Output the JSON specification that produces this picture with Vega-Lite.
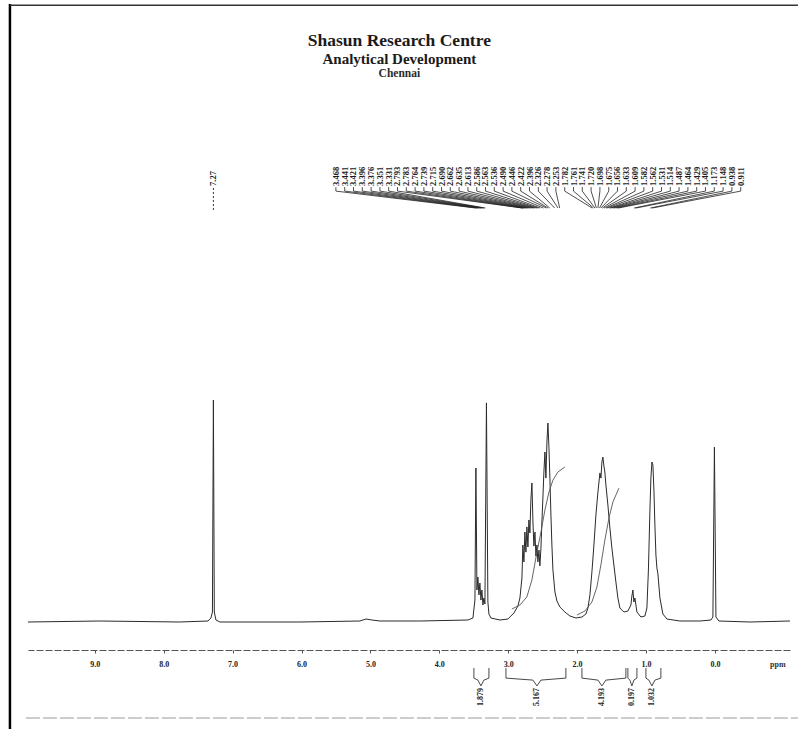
{
  "$schema": "https://vega.github.io/schema/vega-lite/v6.json",
  "width": 762,
  "height": 650,
  "autosize": {"type": "none"},
  "padding": {"left": 28, "top": 0, "right": 8, "bottom": 79},
  "background": "white",
  "config": {
    "view": {"stroke": null},
    "font": "Liberation Serif",
    "axisY": {"disable": true},
    "axisX": {
      "grid": false,
      "domainDash": [7, 2],
      "domainColor": "#555555",
      "domainWidth": 1,
      "tickColor": "#555555",
      "tickSize": 3,
      "labelFont": "Liberation Serif",
      "labelFontWeight": "bold",
      "labelFontSize": 8,
      "labelColor": "#222222",
      "labelPadding": 7
    }
  },
  "datasets": {
    "spec": [
      {"ppm":9.971,"I":-0.45},{"ppm":8.926,"I":0},{"ppm":7.765,"I":-0.45},{"ppm":7.358,"I":0},{"ppm":7.315,"I":1.35},{"ppm":7.293,"I":4.04},{"ppm":7.279,"I":99.1},{"ppm":7.266,"I":4.04},{"ppm":7.242,"I":0.45},{"ppm":7.184,"I":-0.45},{"ppm":6.023,"I":-0.45},{"ppm":5.152,"I":0},{"ppm":5.065,"I":0.9},{"ppm":4.978,"I":0.45},{"ppm":4.862,"I":0},{"ppm":4.282,"I":0},{"ppm":3.585,"I":0.45},{"ppm":3.512,"I":1.35},{"ppm":3.483,"I":9.42},{"ppm":3.469,"I":68.6},{"ppm":3.454,"I":13.9},{"ppm":3.44,"I":19.7},{"ppm":3.425,"I":11.7},{"ppm":3.411,"I":17.0},{"ppm":3.396,"I":9.42},{"ppm":3.382,"I":13.9},{"ppm":3.367,"I":7.17},{"ppm":3.353,"I":10.3},{"ppm":3.338,"I":7.62},{"ppm":3.316,"I":97.8},{"ppm":3.295,"I":8.52},{"ppm":3.28,"I":3.14},{"ppm":3.251,"I":1.35},{"ppm":3.12,"I":0.45},{"ppm":3.004,"I":0.9},{"ppm":2.917,"I":3.59},{"ppm":2.859,"I":6.73},{"ppm":2.83,"I":10.3},{"ppm":2.801,"I":19.3},{"ppm":2.787,"I":34.1},{"ppm":2.772,"I":26.5},{"ppm":2.758,"I":39.9},{"ppm":2.743,"I":30.9},{"ppm":2.729,"I":42.2},{"ppm":2.714,"I":33.2},{"ppm":2.7,"I":45.3},{"ppm":2.685,"I":39.5},{"ppm":2.671,"I":54.3},{"ppm":2.656,"I":61.9},{"ppm":2.641,"I":44.4},{"ppm":2.627,"I":33.6},{"ppm":2.612,"I":39.9},{"ppm":2.598,"I":29.1},{"ppm":2.583,"I":34.1},{"ppm":2.569,"I":26.5},{"ppm":2.554,"I":31.8},{"ppm":2.54,"I":24.7},{"ppm":2.525,"I":32.7},{"ppm":2.511,"I":44.4},{"ppm":2.496,"I":55.6},{"ppm":2.482,"I":66.8},{"ppm":2.467,"I":75.8},{"ppm":2.453,"I":64.1},{"ppm":2.438,"I":80.3},{"ppm":2.424,"I":88.8},{"ppm":2.409,"I":78.0},{"ppm":2.395,"I":64.1},{"ppm":2.38,"I":47.5},{"ppm":2.366,"I":34.1},{"ppm":2.351,"I":22.9},{"ppm":2.322,"I":13.0},{"ppm":2.293,"I":8.97},{"ppm":2.25,"I":6.28},{"ppm":2.177,"I":4.04},{"ppm":2.104,"I":2.24},{"ppm":2.017,"I":1.35},{"ppm":1.93,"I":1.79},{"ppm":1.872,"I":3.14},{"ppm":1.843,"I":5.83},{"ppm":1.814,"I":11.7},{"ppm":1.785,"I":22.0},{"ppm":1.756,"I":34.1},{"ppm":1.727,"I":47.5},{"ppm":1.698,"I":57.8},{"ppm":1.669,"I":66.4},{"ppm":1.654,"I":64.1},{"ppm":1.64,"I":71.3},{"ppm":1.626,"I":73.5},{"ppm":1.611,"I":69.5},{"ppm":1.597,"I":66.8},{"ppm":1.582,"I":61.0},{"ppm":1.553,"I":52.0},{"ppm":1.524,"I":41.7},{"ppm":1.495,"I":32.7},{"ppm":1.466,"I":25.1},{"ppm":1.437,"I":17.5},{"ppm":1.408,"I":10.3},{"ppm":1.379,"I":5.83},{"ppm":1.321,"I":4.04},{"ppm":1.263,"I":4.48},{"ppm":1.219,"I":7.17},{"ppm":1.205,"I":11.2},{"ppm":1.19,"I":13.9},{"ppm":1.176,"I":8.52},{"ppm":1.161,"I":10.3},{"ppm":1.132,"I":4.04},{"ppm":1.074,"I":1.79},{"ppm":1.016,"I":2.24},{"ppm":0.987,"I":5.83},{"ppm":0.965,"I":22.9},{"ppm":0.943,"I":49.8},{"ppm":0.929,"I":64.1},{"ppm":0.914,"I":71.3},{"ppm":0.9,"I":70.0},{"ppm":0.885,"I":58.7},{"ppm":0.871,"I":43.0},{"ppm":0.856,"I":29.6},{"ppm":0.842,"I":23.8},{"ppm":0.827,"I":21.1},{"ppm":0.798,"I":10.3},{"ppm":0.755,"I":3.14},{"ppm":0.697,"I":0.9},{"ppm":0.508,"I":0},{"ppm":0.218,"I":0},{"ppm":0.058,"I":0.45},{"ppm":0.029,"I":1.79},{"ppm":0.007,"I":78.0},{"ppm":-0.015,"I":1.79},{"ppm":-0.058,"I":0},{"ppm":-0.508,"I":-0.45},{"ppm":-1.089,"I":0}
    ],
    "integ": [
      {"g":"A","ppm":2.946,"I":5.38},{"g":"A","ppm":2.83,"I":7.17},{"g":"A","ppm":2.729,"I":10.8},{"g":"A","ppm":2.656,"I":18.4},{"g":"A","ppm":2.583,"I":30.9},{"g":"A","ppm":2.525,"I":39.9},{"g":"A","ppm":2.467,"I":49.8},{"g":"A","ppm":2.409,"I":57.8},{"g":"A","ppm":2.351,"I":63.2},{"g":"A","ppm":2.279,"I":66.8},{"g":"A","ppm":2.177,"I":69.1},
      {"g":"B","ppm":2.003,"I":2.69},{"g":"B","ppm":1.887,"I":4.48},{"g":"B","ppm":1.785,"I":8.52},{"g":"B","ppm":1.713,"I":15.2},{"g":"B","ppm":1.655,"I":25.1},{"g":"B","ppm":1.597,"I":36.3},{"g":"B","ppm":1.538,"I":46.2},{"g":"B","ppm":1.48,"I":53.4},{"g":"B","ppm":1.393,"I":59.6}
    ],
    "peaks": [
      {"t":"3.468","ppm":3.468,"pos":5.501},{"t":"3.441","ppm":3.441,"pos":5.373},{"t":"3.421","ppm":3.421,"pos":5.246},{"t":"3.396","ppm":3.396,"pos":5.118},{"t":"3.376","ppm":3.376,"pos":4.99},{"t":"3.351","ppm":3.351,"pos":4.862},{"t":"3.331","ppm":3.331,"pos":4.735},{"t":"2.793","ppm":2.793,"pos":4.607},{"t":"2.783","ppm":2.783,"pos":4.479},{"t":"2.764","ppm":2.764,"pos":4.351},{"t":"2.739","ppm":2.739,"pos":4.224},{"t":"2.715","ppm":2.715,"pos":4.096},{"t":"2.690","ppm":2.69,"pos":3.968},{"t":"2.662","ppm":2.662,"pos":3.841},{"t":"2.635","ppm":2.635,"pos":3.713},{"t":"2.613","ppm":2.613,"pos":3.585},{"t":"2.586","ppm":2.586,"pos":3.457},{"t":"2.563","ppm":2.563,"pos":3.33},{"t":"2.536","ppm":2.536,"pos":3.202},{"t":"2.490","ppm":2.49,"pos":3.074},{"t":"2.446","ppm":2.446,"pos":2.947},{"t":"2.422","ppm":2.422,"pos":2.819},{"t":"2.396","ppm":2.396,"pos":2.691},{"t":"2.326","ppm":2.326,"pos":2.563},{"t":"2.278","ppm":2.278,"pos":2.436},{"t":"2.253","ppm":2.253,"pos":2.308},
      {"t":"1.782","ppm":1.782,"pos":2.18},{"t":"1.761","ppm":1.761,"pos":2.052},{"t":"1.741","ppm":1.741,"pos":1.925},{"t":"1.720","ppm":1.72,"pos":1.797},{"t":"1.698","ppm":1.698,"pos":1.669},{"t":"1.675","ppm":1.675,"pos":1.541},{"t":"1.656","ppm":1.656,"pos":1.414},{"t":"1.633","ppm":1.633,"pos":1.286},{"t":"1.609","ppm":1.609,"pos":1.158},{"t":"1.582","ppm":1.582,"pos":1.031},{"t":"1.562","ppm":1.562,"pos":0.903},{"t":"1.531","ppm":1.531,"pos":0.775},{"t":"1.514","ppm":1.514,"pos":0.647},{"t":"1.487","ppm":1.487,"pos":0.52},{"t":"1.464","ppm":1.464,"pos":0.392},{"t":"1.429","ppm":1.429,"pos":0.264},{"t":"1.405","ppm":1.405,"pos":0.137},{"t":"1.173","ppm":1.173,"pos":0.009},{"t":"1.148","ppm":1.148,"pos":-0.119},{"t":"0.938","ppm":0.938,"pos":-0.247},{"t":"0.911","ppm":0.911,"pos":-0.375}
    ],
    "brackets": [
      {"b":1,"k":1,"ppm":3.498,"I":-21.1},{"b":1,"k":2,"ppm":3.498,"I":-25.6},{"b":1,"k":3,"ppm":3.44,"I":-26.5},{"b":1,"k":4,"ppm":3.396,"I":-29.1},{"b":1,"k":5,"ppm":3.353,"I":-26.5},{"b":1,"k":6,"ppm":3.28,"I":-25.6},{"b":1,"k":7,"ppm":3.28,"I":-21.1},
      {"b":2,"k":1,"ppm":3.033,"I":-21.1},{"b":2,"k":2,"ppm":3.033,"I":-25.6},{"b":2,"k":3,"ppm":2.641,"I":-26.5},{"b":2,"k":4,"ppm":2.583,"I":-29.1},{"b":2,"k":5,"ppm":2.525,"I":-26.5},{"b":2,"k":6,"ppm":2.163,"I":-25.6},{"b":2,"k":7,"ppm":2.163,"I":-21.1},
      {"b":3,"k":1,"ppm":1.93,"I":-21.1},{"b":3,"k":2,"ppm":1.93,"I":-25.6},{"b":3,"k":3,"ppm":1.698,"I":-26.5},{"b":3,"k":4,"ppm":1.64,"I":-29.1},{"b":3,"k":5,"ppm":1.582,"I":-26.5},{"b":3,"k":6,"ppm":1.292,"I":-25.6},{"b":3,"k":7,"ppm":1.292,"I":-21.1},
      {"b":4,"k":1,"ppm":1.263,"I":-21.1},{"b":4,"k":2,"ppm":1.263,"I":-25.6},{"b":4,"k":3,"ppm":1.234,"I":-26.5},{"b":4,"k":4,"ppm":1.205,"I":-29.1},{"b":4,"k":5,"ppm":1.176,"I":-26.5},{"b":4,"k":6,"ppm":1.132,"I":-25.6},{"b":4,"k":7,"ppm":1.132,"I":-21.1},
      {"b":5,"k":1,"ppm":1.001,"I":-21.1},{"b":5,"k":2,"ppm":1.001,"I":-25.6},{"b":5,"k":3,"ppm":0.958,"I":-26.5},{"b":5,"k":4,"ppm":0.914,"I":-29.1},{"b":5,"k":5,"ppm":0.871,"I":-26.5},{"b":5,"k":6,"ppm":0.784,"I":-25.6},{"b":5,"k":7,"ppm":0.784,"I":-21.1}
    ],
    "ilabels": [
      {"t":"1.879","ppm":3.396},{"t":"5.167","ppm":2.583},{"t":"4.193","ppm":1.64},{"t":"0.197","ppm":1.205},{"t":"1.032","ppm":0.914}
    ],
    "one": [{}]
  },
  "layer": [
    {
      "data": {"name": "spec"},
      "mark": {"type": "line", "color": "#2b2b2b", "strokeWidth": 1},
      "encoding": {
        "x": {"field": "ppm", "type": "quantitative",
              "scale": {"domain": [-1.09, 9.97], "reverse": true, "nice": false, "zero": false},
              "axis": {"title": null, "values": [9, 8, 7, 6, 5, 4, 3, 2, 1, 0], "format": ".1f"}},
        "y": {"field": "I", "type": "quantitative",
              "scale": {"domain": [-13.0, 278.5], "nice": false, "zero": false},
              "axis": null}
      }
    },
    {
      "data": {"name": "integ"},
      "mark": {"type": "line", "color": "#555555", "strokeWidth": 0.9},
      "encoding": {
        "x": {"field": "ppm", "type": "quantitative"},
        "y": {"field": "I", "type": "quantitative"},
        "detail": {"field": "g"}
      }
    },
    {
      "data": {"name": "peaks"},
      "mark": {"type": "text", "angle": 270, "align": "left", "baseline": "middle", "font": "Liberation Serif", "fontWeight": "bold", "fontSize": 8.5, "color": "#1a1a1a"},
      "encoding": {
        "x": {"field": "pos", "type": "quantitative"},
        "y": {"datum": 195.1},
        "text": {"field": "t"}
      }
    },
    {
      "data": {"name": "peaks"},
      "mark": {"type": "rule", "color": "#222222", "strokeWidth": 0.8},
      "encoding": {
        "x": {"field": "pos", "type": "quantitative"},
        "y": {"datum": 194.6},
        "y2": {"datum": 192.8}
      }
    },
    {
      "data": {"name": "peaks"},
      "mark": {"type": "rule", "color": "#222222", "strokeWidth": 0.8},
      "encoding": {
        "x": {"field": "pos", "type": "quantitative"},
        "x2": {"field": "ppm"},
        "y": {"datum": 192.8},
        "y2": {"datum": 185.2}
      }
    },
    {
      "data": {"name": "one"},
      "mark": {"type": "text", "angle": 270, "align": "left", "baseline": "middle", "font": "Liberation Serif", "fontWeight": "bold", "fontSize": 8.5, "color": "#1a1a1a", "text": "7.27"},
      "encoding": {"x": {"datum": 7.279}, "y": {"datum": 195.1}}
    },
    {
      "data": {"name": "one"},
      "mark": {"type": "rule", "color": "#333333", "strokeWidth": 1, "strokeDash": [2, 2]},
      "encoding": {"x": {"datum": 7.279}, "y": {"datum": 194.2}, "y2": {"datum": 184.3}}
    },
    {
      "data": {"name": "one"},
      "mark": {"type": "text", "font": "Liberation Serif", "fontWeight": "bold", "fontSize": 17.5, "color": "#1a1a1a", "baseline": "middle", "align": "center", "text": "Shasun Research Centre"},
      "encoding": {"x": {"datum": 4.58}, "y": {"datum": 260.1}}
    },
    {
      "data": {"name": "one"},
      "mark": {"type": "text", "font": "Liberation Serif", "fontWeight": "bold", "fontSize": 15, "color": "#1a1a1a", "baseline": "middle", "align": "center", "text": "Analytical Development"},
      "encoding": {"x": {"datum": 4.58}, "y": {"datum": 252.2}}
    },
    {
      "data": {"name": "one"},
      "mark": {"type": "text", "font": "Liberation Serif", "fontWeight": "bold", "fontSize": 11.5, "color": "#2a2a2a", "baseline": "middle", "align": "center", "text": "Chennai"},
      "encoding": {"x": {"datum": 4.58}, "y": {"datum": 245.2}}
    },
    {
      "data": {"name": "brackets"},
      "mark": {"type": "line", "color": "#333333", "strokeWidth": 0.9},
      "encoding": {
        "x": {"field": "ppm", "type": "quantitative"},
        "y": {"field": "I", "type": "quantitative"},
        "detail": {"field": "b"},
        "order": {"field": "k"}
      }
    },
    {
      "data": {"name": "ilabels"},
      "mark": {"type": "text", "angle": 270, "align": "right", "baseline": "middle", "font": "Liberation Serif", "fontWeight": "bold", "fontSize": 8, "color": "#222222"},
      "encoding": {
        "x": {"field": "ppm", "type": "quantitative"},
        "y": {"datum": -30.0},
        "text": {"field": "t"}
      }
    },
    {
      "data": {"name": "one"},
      "mark": {"type": "text", "font": "Liberation Serif", "fontWeight": "bold", "fontSize": 8, "color": "#333333", "baseline": "middle", "align": "center", "text": "ppm"},
      "encoding": {"x": {"datum": -0.914}, "y": {"datum": -19.7}}
    },
    {
      "data": {"name": "one"},
      "mark": {"type": "rule", "color": "#000000", "strokeWidth": 2.5},
      "encoding": {"x": {"datum": 10.232}, "y": {"datum": 276.7}, "y2": {"datum": -48.4}}
    },
    {
      "data": {"name": "one"},
      "mark": {"type": "rule", "color": "#333333", "strokeWidth": 1.5},
      "encoding": {"x": {"datum": 10.232}, "x2": {"datum": -1.205}, "y": {"datum": 276.2}}
    },
    {
      "data": {"name": "one"},
      "mark": {"type": "rule", "color": "#9a9a9a", "strokeWidth": 1, "strokeDash": [14, 3]},
      "encoding": {"x": {"datum": 10.0}, "x2": {"datum": -1.205}, "y": {"datum": -43.5}}
    }
  ]
}
